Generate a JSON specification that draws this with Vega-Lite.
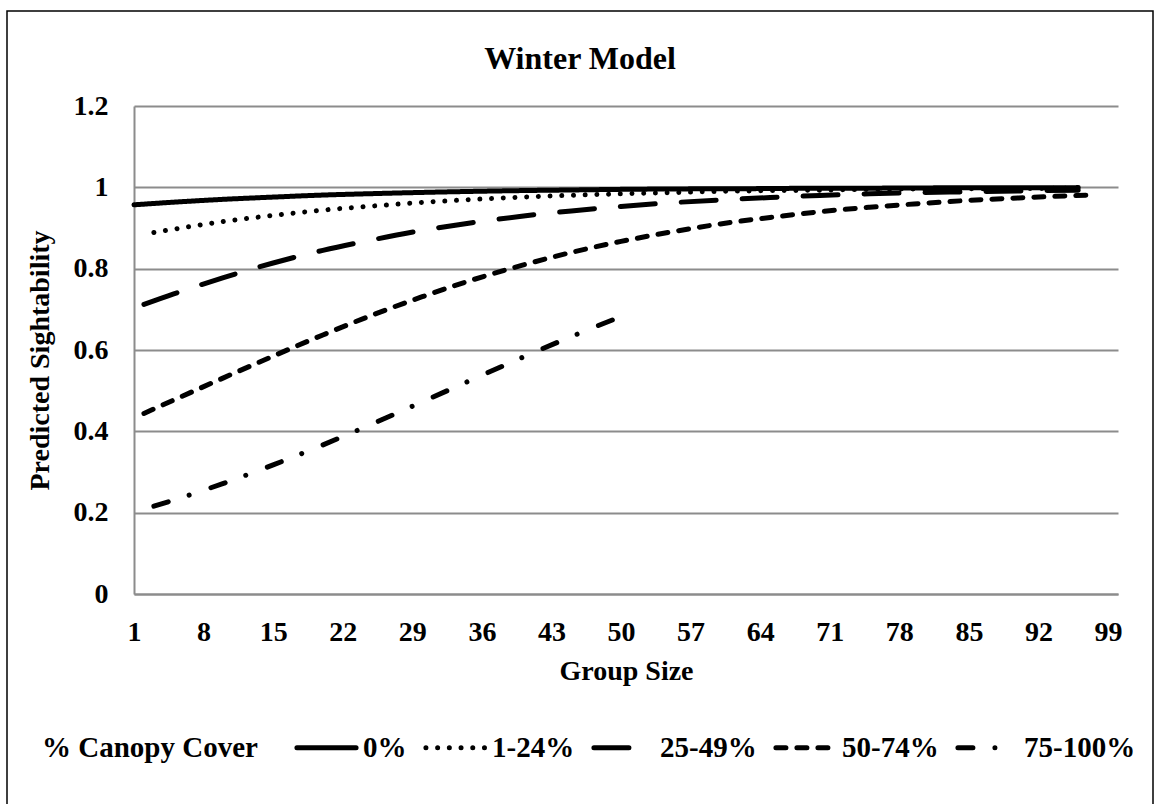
{
  "$schema": "https://vega.github.io/schema/vega-lite/v6.json",
  "width": 1146,
  "height": 800,
  "autosize": {"type": "none"},
  "padding": {"left": 7, "top": 11, "right": 5, "bottom": 0},
  "background": "white",
  "title": {
    "text": "Winter Model",
    "font": "Liberation Serif",
    "fontSize": 32,
    "fontWeight": "bold",
    "color": "black",
    "anchor": "middle",
    "baseline": "alphabetic",
    "offset": -90
  },
  "config": {
    "view": {"stroke": "black", "strokeWidth": 1.5},
    "font": "Liberation Serif"
  },
  "data": {
    "values": [
      {"cover": "0%", "group_size": 1, "sightability": 0.957},
      {"cover": "0%", "group_size": 5, "sightability": 0.9635},
      {"cover": "0%", "group_size": 10, "sightability": 0.9705},
      {"cover": "0%", "group_size": 15, "sightability": 0.976},
      {"cover": "0%", "group_size": 20, "sightability": 0.981},
      {"cover": "0%", "group_size": 25, "sightability": 0.9845},
      {"cover": "0%", "group_size": 30, "sightability": 0.9875},
      {"cover": "0%", "group_size": 35, "sightability": 0.99},
      {"cover": "0%", "group_size": 40, "sightability": 0.992},
      {"cover": "0%", "group_size": 45, "sightability": 0.9935},
      {"cover": "0%", "group_size": 50, "sightability": 0.995},
      {"cover": "0%", "group_size": 55, "sightability": 0.996},
      {"cover": "0%", "group_size": 60, "sightability": 0.9965},
      {"cover": "0%", "group_size": 65, "sightability": 0.997},
      {"cover": "0%", "group_size": 70, "sightability": 0.998},
      {"cover": "0%", "group_size": 75, "sightability": 0.998},
      {"cover": "0%", "group_size": 80, "sightability": 0.9985},
      {"cover": "0%", "group_size": 85, "sightability": 0.999},
      {"cover": "0%", "group_size": 90, "sightability": 0.999},
      {"cover": "0%", "group_size": 96, "sightability": 0.9993},

      {"cover": "1-24%", "group_size": 3, "sightability": 0.889},
      {"cover": "1-24%", "group_size": 5, "sightability": 0.897},
      {"cover": "1-24%", "group_size": 10, "sightability": 0.916},
      {"cover": "1-24%", "group_size": 15, "sightability": 0.931},
      {"cover": "1-24%", "group_size": 20, "sightability": 0.944},
      {"cover": "1-24%", "group_size": 25, "sightability": 0.954},
      {"cover": "1-24%", "group_size": 30, "sightability": 0.963},
      {"cover": "1-24%", "group_size": 35, "sightability": 0.97},
      {"cover": "1-24%", "group_size": 40, "sightability": 0.976},
      {"cover": "1-24%", "group_size": 45, "sightability": 0.9805},
      {"cover": "1-24%", "group_size": 50, "sightability": 0.984},
      {"cover": "1-24%", "group_size": 55, "sightability": 0.987},
      {"cover": "1-24%", "group_size": 60, "sightability": 0.99},
      {"cover": "1-24%", "group_size": 65, "sightability": 0.992},
      {"cover": "1-24%", "group_size": 70, "sightability": 0.993},
      {"cover": "1-24%", "group_size": 75, "sightability": 0.995},
      {"cover": "1-24%", "group_size": 80, "sightability": 0.996},
      {"cover": "1-24%", "group_size": 85, "sightability": 0.9965},
      {"cover": "1-24%", "group_size": 90, "sightability": 0.997},
      {"cover": "1-24%", "group_size": 95, "sightability": 0.998},

      {"cover": "25-49%", "group_size": 2, "sightability": 0.712},
      {"cover": "25-49%", "group_size": 5, "sightability": 0.738},
      {"cover": "25-49%", "group_size": 10, "sightability": 0.778},
      {"cover": "25-49%", "group_size": 15, "sightability": 0.814},
      {"cover": "25-49%", "group_size": 20, "sightability": 0.845},
      {"cover": "25-49%", "group_size": 25, "sightability": 0.871},
      {"cover": "25-49%", "group_size": 30, "sightability": 0.894},
      {"cover": "25-49%", "group_size": 35, "sightability": 0.913},
      {"cover": "25-49%", "group_size": 40, "sightability": 0.929},
      {"cover": "25-49%", "group_size": 45, "sightability": 0.942},
      {"cover": "25-49%", "group_size": 50, "sightability": 0.953},
      {"cover": "25-49%", "group_size": 55, "sightability": 0.962},
      {"cover": "25-49%", "group_size": 60, "sightability": 0.969},
      {"cover": "25-49%", "group_size": 65, "sightability": 0.975},
      {"cover": "25-49%", "group_size": 70, "sightability": 0.98},
      {"cover": "25-49%", "group_size": 75, "sightability": 0.984},
      {"cover": "25-49%", "group_size": 80, "sightability": 0.987},
      {"cover": "25-49%", "group_size": 85, "sightability": 0.989},
      {"cover": "25-49%", "group_size": 90, "sightability": 0.991},
      {"cover": "25-49%", "group_size": 96, "sightability": 0.993},

      {"cover": "50-74%", "group_size": 2, "sightability": 0.444},
      {"cover": "50-74%", "group_size": 5, "sightability": 0.477},
      {"cover": "50-74%", "group_size": 10, "sightability": 0.5315},
      {"cover": "50-74%", "group_size": 15, "sightability": 0.585},
      {"cover": "50-74%", "group_size": 20, "sightability": 0.637},
      {"cover": "50-74%", "group_size": 25, "sightability": 0.686},
      {"cover": "50-74%", "group_size": 30, "sightability": 0.731},
      {"cover": "50-74%", "group_size": 35, "sightability": 0.772},
      {"cover": "50-74%", "group_size": 40, "sightability": 0.808},
      {"cover": "50-74%", "group_size": 45, "sightability": 0.84},
      {"cover": "50-74%", "group_size": 50, "sightability": 0.867},
      {"cover": "50-74%", "group_size": 55, "sightability": 0.89},
      {"cover": "50-74%", "group_size": 60, "sightability": 0.91},
      {"cover": "50-74%", "group_size": 65, "sightability": 0.926},
      {"cover": "50-74%", "group_size": 70, "sightability": 0.94},
      {"cover": "50-74%", "group_size": 75, "sightability": 0.951},
      {"cover": "50-74%", "group_size": 80, "sightability": 0.96},
      {"cover": "50-74%", "group_size": 85, "sightability": 0.968},
      {"cover": "50-74%", "group_size": 90, "sightability": 0.974},
      {"cover": "50-74%", "group_size": 97, "sightability": 0.981},

      {"cover": "75-100%", "group_size": 3, "sightability": 0.216},
      {"cover": "75-100%", "group_size": 5, "sightability": 0.231},
      {"cover": "75-100%", "group_size": 10, "sightability": 0.272},
      {"cover": "75-100%", "group_size": 15, "sightability": 0.3175},
      {"cover": "75-100%", "group_size": 20, "sightability": 0.3666},
      {"cover": "75-100%", "group_size": 25, "sightability": 0.4186},
      {"cover": "75-100%", "group_size": 30, "sightability": 0.4725},
      {"cover": "75-100%", "group_size": 35, "sightability": 0.527},
      {"cover": "75-100%", "group_size": 40, "sightability": 0.581},
      {"cover": "75-100%", "group_size": 45, "sightability": 0.633},
      {"cover": "75-100%", "group_size": 51, "sightability": 0.692}
    ]
  },
  "mark": {
    "type": "line",
    "color": "black",
    "strokeWidth": 5,
    "strokeCap": "round",
    "strokeJoin": "round",
    "interpolate": "monotone"
  },
  "encoding": {
    "x": {
      "field": "group_size",
      "type": "quantitative",
      "scale": {"domain": [1, 100], "range": [127, 1111], "nice": false, "zero": false},
      "axis": {
        "values": [1, 8, 15, 22, 29, 36, 43, 50, 57, 64, 71, 78, 85, 92, 99],
        "offset": -217,
        "grid": false,
        "ticks": false,
        "tickSize": 0,
        "domain": true,
        "domainColor": "#8c8c8c",
        "domainWidth": 2,
        "labelFlush": false,
        "labelOverlap": false,
        "labelBound": false,
        "labelFont": "Liberation Serif",
        "labelFontSize": 28,
        "labelFontWeight": "bold",
        "labelColor": "black",
        "labelBaseline": "middle",
        "labelPadding": 38,
        "title": "Group Size",
        "titleFont": "Liberation Serif",
        "titleFontSize": 28,
        "titleFontWeight": "bold",
        "titleColor": "black",
        "titleBaseline": "middle",
        "titleY": 77
      }
    },
    "y": {
      "field": "sightability",
      "type": "quantitative",
      "scale": {"domain": [0, 1.2], "range": [583, 95], "nice": false, "zero": true},
      "axis": {
        "values": [0, 0.2, 0.4, 0.6, 0.8, 1, 1.2],
        "format": "~g",
        "offset": -127,
        "grid": true,
        "gridColor": "#8c8c8c",
        "gridWidth": 2,
        "ticks": false,
        "tickSize": 0,
        "domain": true,
        "domainColor": "#8c8c8c",
        "domainWidth": 2,
        "labelFont": "Liberation Serif",
        "labelFontSize": 28,
        "labelFontWeight": "bold",
        "labelColor": "black",
        "labelPadding": 26,
        "labelOverlap": false,
        "labelFlush": false,
        "title": "Predicted Sightability",
        "titleFont": "Liberation Serif",
        "titleFontSize": 28,
        "titleFontWeight": "bold",
        "titleColor": "black",
        "titleBaseline": "middle",
        "titleX": -94,
        "titleY": 349
      }
    },
    "strokeDash": {
      "field": "cover",
      "type": "nominal",
      "scale": {
        "domain": ["0%", "1-24%", "25-49%", "50-74%", "75-100%"],
        "range": [[1, 0], [0.01, 11.7], [35, 26], [10, 11], [15, 22, 0.01, 23]]
      },
      "legend": {
        "orient": "none",
        "legendX": 35,
        "legendY": 704,
        "direction": "horizontal",
        "columns": 5,
        "title": "% Canopy Cover",
        "titleOrient": "left",
        "titleAnchor": "middle",
        "titleLimit": 500,
        "titleFont": "Liberation Serif",
        "titleFontSize": 29,
        "titleFontWeight": "bold",
        "titleColor": "black",
        "titlePadding": 36,
        "titleBaseline": "line-top",
        "titleLineHeight": 19,
        "symbolType": "stroke",
        "symbolSize": 3500,
        "symbolStrokeWidth": 5,
        "symbolStrokeColor": "black",
        "labelFont": "Liberation Serif",
        "labelFontSize": 29,
        "labelFontWeight": "bold",
        "labelColor": "black",
        "labelLimit": 300,
        "labelOffset": 4,
        "columnPadding": 8,
        "encode": {
          "symbols": {"update": {"strokeCap": {"value": "round"}}}
        }
      }
    }
  }
}
